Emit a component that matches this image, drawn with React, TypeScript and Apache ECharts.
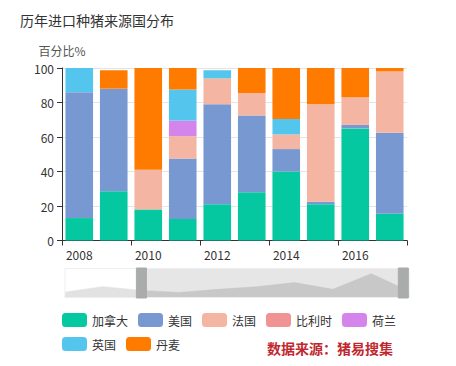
import React, { useEffect, useRef } from "react";
import * as echarts from "echarts";

const years = ["2008", "2009", "2010", "2011", "2012", "2013", "2014", "2015", "2016", "2017"];
const seriesNames = ["加拿大", "美国", "法国", "比利时", "荷兰", "英国", "丹麦"];
const canada = [13, 28.5, 18, 12.5, 21, 28, 40, 21, 65, 15.5];
const usa = [73, 59.5, 0, 35, 58, 44.5, 13, 1.5, 2, 47];
const france = [0, 0, 23, 13, 15, 13, 8.5, 56.5, 16, 35.5];
const belgium = [0, 0, 0, 0, 0, 0, 0, 0, 0, 0];
const netherlands = [0, 0, 0, 9, 0, 0, 0, 0, 0, 0];
const uk = [14, 0, 0, 18, 4.7, 0, 9, 0, 0, 0];
const denmark = [0, 10.7, 59, 12.5, 0, 14.5, 29.5, 21, 17, 2];
const seriesValues = [canada, usa, france, belgium, netherlands, uk, denmark];
const colors = ["#05c8a0", "#7898d2", "#f4b6a2", "#f29393", "#d485ec", "#54c6ee", "#ff7b00"];
const yTicks = { min: 0, max: 100, interval: 20 };

export default function App() {
  const ref = useRef<HTMLDivElement>(null);
  useEffect(() => {
    if (!ref.current) return;
    const chart = echarts.init(ref.current, null, { renderer: "svg" });
    const font = "'Noto Sans CJK SC', 'Noto Sans', sans-serif";
    chart.setOption({
      animation: false,
      color: colors,
      textStyle: { fontFamily: font },
      title: {
        text: "历年进口种猪来源国分布",
        left: 20,
        top: 13,
        padding: 0,
        textStyle: { fontSize: 14, fontWeight: "normal", color: "#333", fontFamily: font },
      },
      grid: { left: 62, right: 49, top: 68, bottom: 125.5, containLabel: false },
      legend: {
        data: seriesNames,
        left: 62,
        top: 313,
        width: 345,
        padding: 0,
        itemWidth: 25,
        itemHeight: 14,
        itemGap: 10,
        icon: "roundRect",
        textStyle: { fontSize: 12, color: "#333", fontFamily: font },
      },
      xAxis: [
        {
          type: "category",
          data: years,
          axisLine: { show: true, lineStyle: { color: "#333" } },
          axisTick: { show: true, interval: 1, lineStyle: { color: "#333" } },
          axisLabel: { interval: 1, fontSize: 12, color: "#333", margin: 8, fontFamily: font },
        },
        { type: "category", data: years, show: false, gridIndex: 0 },
      ],
      yAxis: {
        type: "value",
        min: yTicks.min,
        max: yTicks.max,
        interval: yTicks.interval,
        name: "百分比%",
        nameGap: 12,
        nameTextStyle: { fontSize: 12, color: "#555", fontFamily: font },
        axisLine: { show: true, lineStyle: { color: "#333" } },
        axisTick: { show: true, lineStyle: { color: "#333" } },
        axisLabel: { fontSize: 12, color: "#333", fontFamily: font },
        splitLine: { show: true, lineStyle: { color: "#e4e4e4" } },
      },
      dataZoom: [
        {
          type: "slider",
          xAxisIndex: 1,
          start: 22,
          end: 98.5,
          left: 62,
          right: 49,
          top: 268,
          height: 30,
          showDetail: false,
          brushSelect: false,
          moveHandleSize: 0,
          backgroundColor: "rgba(0,0,0,0)",
          borderColor: "#eeeeee",
          fillerColor: "rgba(200,200,200,0.45)",
          handleIcon: "path://M0,0 L10,0 L10,30 L0,30 Z",
          handleSize: "100%",
          handleStyle: { color: "#a9acab", borderColor: "#a9acab" },
          dataBackground: {
            lineStyle: { color: "#dcdcdc", opacity: 1 },
            areaStyle: { color: "#e2e2e2", opacity: 1 },
          },
          selectedDataBackground: {
            lineStyle: { color: "#c4c4c4", opacity: 1 },
            areaStyle: { color: "#c8c8c8", opacity: 1 },
          },
        },
      ],
      graphic: [
        {
          type: "text",
          left: 267,
          top: 341,
          style: {
            text: "数据来源：猪易搜集",
            fill: "#c0282e",
            fontSize: 14,
            fontWeight: "bold",
            fontFamily: font,
          },
        },
      ],
      series: [
        ...seriesNames.map((name, i) => ({
          name,
          type: "bar",
          stack: "total",
          xAxisIndex: 0,
          barCategoryGap: "20%",
          data: seriesValues[i],
          itemStyle: { color: colors[i] },
        })),
        {
          name: "shadow",
          type: "line",
          xAxisIndex: 1,
          data: canada,
          symbol: "none",
          silent: true,
          lineStyle: { opacity: 0 },
          tooltip: { show: false },
        },
      ],
    });
    return () => chart.dispose();
  }, []);
  return (
    <div
      ref={ref}
      style={{ position: "absolute", left: 0, top: 0, width: 456, height: 366, background: "#fff" }}
    />
  );
}
